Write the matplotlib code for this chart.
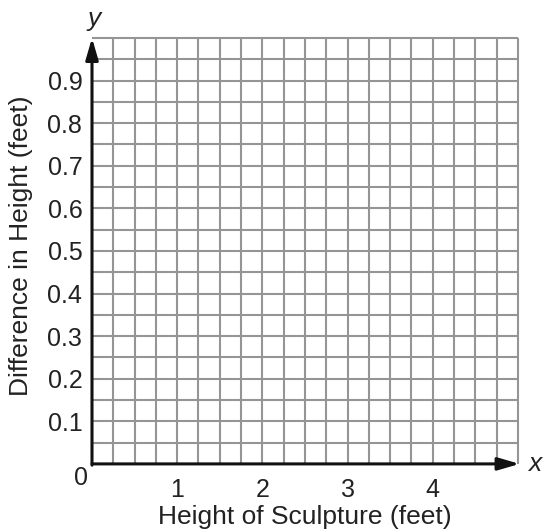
import numpy as np
import matplotlib.pyplot as plt

plt.rcParams['font.family'] = ['Liberation Sans', 'DejaVu Sans']

# Axis setup for the blank coordinate grid
x_ticks = [1, 2, 3, 4]
y_ticks = [0.1, 0.2, 0.3, 0.4, 0.5, 0.6, 0.7, 0.8, 0.9]
x_max = 5.0
y_max = 1.0
x_step = 0.25
y_step = 0.05

x_label = "Height of Sculpture (feet)"
y_label = "Difference in Height (feet)"

text_color = "#222222"

fig = plt.figure(figsize=(5.46, 5.32), dpi=100)
ax = fig.add_axes([0.1685, 0.128, 0.78, 0.8006])
ax.set_xlim(0, x_max)
ax.set_ylim(0, y_max)

# Grid lines
grid_x = np.arange(x_step, x_max + x_step / 2, x_step)
grid_y = np.arange(y_step, y_max + y_step / 2, y_step)
ax.vlines(grid_x, 0, y_max, color="#959595", lw=1.5, clip_on=False, zorder=1)
ax.hlines(grid_y, 0, x_max, color="#959595", lw=1.5, clip_on=False, zorder=1)

for s in ax.spines.values():
    s.set_visible(False)

# Axes with arrows
arrow = dict(arrowstyle="-|>,head_length=1.3,head_width=0.38",
             color="#111111", lw=2.2, shrinkA=0, shrinkB=0)
ax.annotate("", xy=(x_max + 0.02, 0), xytext=(0, 0), arrowprops=arrow,
            annotation_clip=False, zorder=3)
ax.annotate("", xy=(0, y_max), xytext=(0, -0.003), arrowprops=arrow,
            annotation_clip=False, zorder=3)

ax.set_xticks(x_ticks)
ax.set_xticklabels([str(v) for v in x_ticks])
ax.set_yticks(y_ticks)
ax.set_yticklabels([f"{v:.1f}" for v in y_ticks])
ax.tick_params(axis="both", length=0, labelsize=18, colors=text_color)
ax.tick_params(axis="x", pad=10)
ax.tick_params(axis="y", pad=7)

ax.text(-0.13, -0.032, "0", fontsize=18, ha="center", va="center", color=text_color)
ax.text(x_max + 0.2, 0, "x", fontsize=19, style="italic", ha="center", va="center", color=text_color)
ax.text(0.03, y_max + 0.045, "y", fontsize=19, style="italic", ha="center", va="center", color=text_color)

fig.text(0.5586, 0.028, x_label, fontsize=19, ha="center", va="center", color=text_color)
fig.text(0.038, 0.5376, y_label, fontsize=19, rotation=90, ha="center", va="center", color=text_color)

fig.savefig("out.png", dpi=100)
